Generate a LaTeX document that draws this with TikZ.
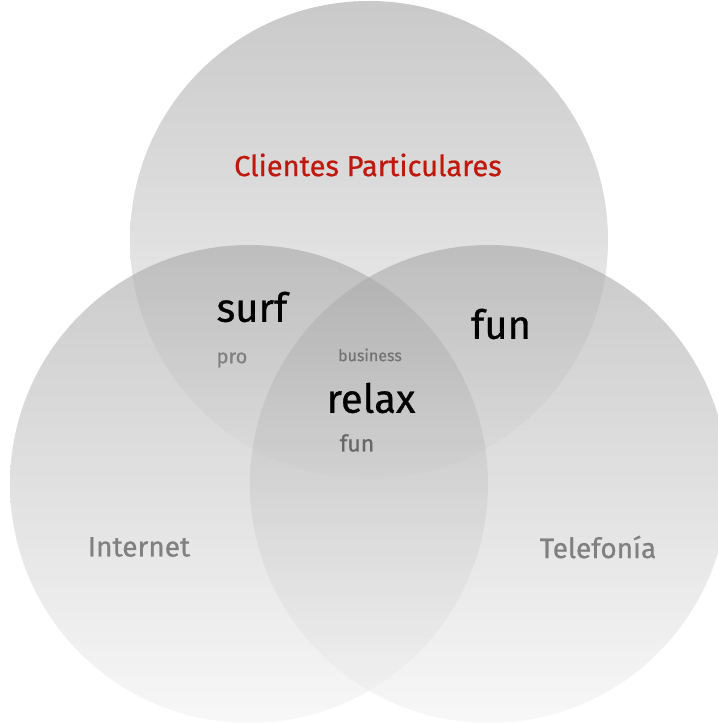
\documentclass[tikz,border=0pt]{standalone}
\usepackage{fontspec}
\setmainfont[FakeBold=0.7]{Fira Sans}
\definecolor{setred}{HTML}{C0180C}
\definecolor{softgray}{HTML}{808080}
\begin{document}
\begin{tikzpicture}[x=1pt, y=1pt,
    setcircle/.style={top color=black!35, bottom color=black!5, fill opacity=0.6, draw=none},
    bigword/.style={font=\fontsize{40}{42}\selectfont, text=black},
    smallword/.style={font=\fontsize{20}{22}\selectfont, text=softgray},
    setname/.style={font=\fontsize{28}{30}\selectfont, text=softgray}]
    \useasboundingbox (0,0) rectangle (718,724);

    % Draw circles
    \coordinate (ctop) at (369, 484);
    \coordinate (cleft) at (249, 240);
    \coordinate (cright) at (489, 240);
    \shade [setcircle] (ctop) circle (239);
    \shade [setcircle] (cleft) circle (239);
    \shade [setcircle] (cright) circle (239);

    % Labels
    \node [setname, text=setred, font=\fontsize{29}{31}\selectfont] (lclients) at (368, 559) {Clientes Particulares};
    \node [setname] (linternet) at (139, 177) {Internet};
    \node [setname] (ltelefonia) at (598, 177) {Telefonía};
    \node [bigword] (lsurf) at (252, 417) {surf};
    \node [smallword] (lpro) at (232, 364) {pro};
    \node [bigword] (lfunbig) at (501, 400) {fun};
    \node [smallword, font=\fontsize{16}{18}\selectfont, text=black!55] (lbusiness) at (370, 369) {business};
    \node [bigword] (lrelax) at (371, 326) {relax};
    \node [smallword, font=\fontsize{23}{25}\selectfont, text=black!60] (lfun) at (357, 281) {fun};
\end{tikzpicture}
\end{document}
